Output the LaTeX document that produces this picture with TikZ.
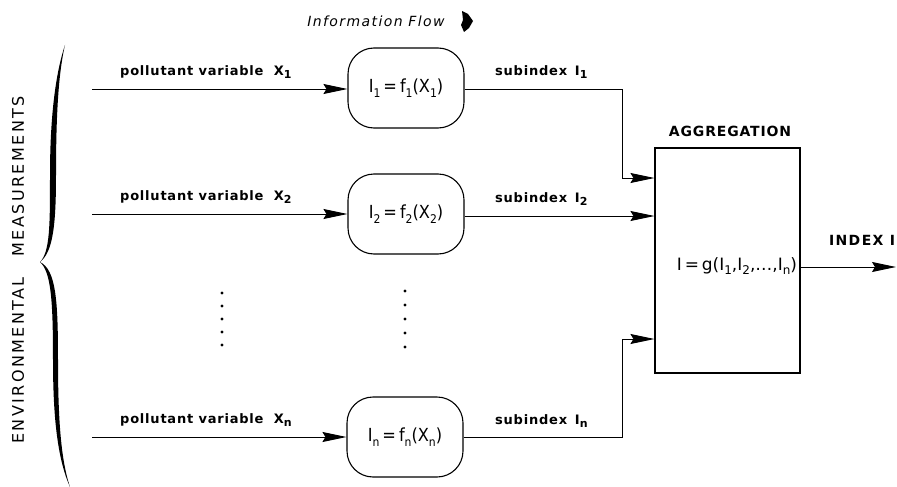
\documentclass[tikz,border=0pt]{standalone}
\usepackage{fontspec}
\setmainfont{DejaVu Sans}
\newfontfamily\lsA{DejaVu Sans}[LetterSpace=6]
\newfontfamily\lsB{DejaVu Sans}[LetterSpace=10]
\newfontfamily\lsC{DejaVu Sans}[LetterSpace=15]
\newfontfamily\cnd{DejaVu Sans Condensed}
\usetikzlibrary{arrows.meta,calc}
\newcommand{\sbs}[1]{\raisebox{-0.5ex}{\fontsize{11}{11}\selectfont #1}}
\newcommand{\fsb}[1]{\raisebox{-0.5ex}{\fontsize{12}{12}\selectfont #1}}
\begin{document}
\begin{tikzpicture}[x=1pt,y=-1pt,
  fbox/.style={draw,line width=1.1pt,rounded corners=26pt,minimum width=116pt,minimum height=80pt,inner sep=0pt,font=\cnd\fontsize{18}{20}\selectfont},
  aggbox/.style={draw,line width=1.1pt,minimum width=145pt,minimum height=225pt,inner sep=0pt},
  arr/.style={line width=1pt,-{Stealth[length=24pt,width=10pt,inset=3pt]}},
  lab/.style={font=\lsA\fontsize{13}{15}\selectfont\bfseries,inner sep=0pt,anchor=west},
  dot/.style={circle,fill,inner sep=0pt,minimum size=3.4pt},
  ]
\useasboundingbox (0,0) rectangle (897,487);

% title
\node[font=\lsB\fontsize{14}{16}\selectfont\itshape,inner sep=0pt] (title) at (376,21) {Information Flow};
\fill (462,11) -- (468,14) -- (473,21) -- (469,28) -- (464,32) -- (461,25) -- (463,20) -- cycle;

% brace and side text
\fill (65,45) .. controls (55,75) and (50,120) .. (50,175) .. controls (50,225) and (50,252) .. (40,262)
  .. controls (53,252) and (56,225) .. (56,175) .. controls (56,120) and (58,75) .. (65,45) -- cycle;
\fill (40,262) .. controls (51,272) and (53,300) .. (53,360) .. controls (53,420) and (58,460) .. (70,487)
  .. controls (61,460) and (58,420) .. (58,360) .. controls (58,300) and (56,270) .. (40,262) -- cycle;
\node[rotate=90,font=\lsC\fontsize{16}{18}\selectfont,inner sep=0pt] (side) at (18,270) {ENVIRONMENTAL\hspace{1.3em}MEASUREMENTS};

% function boxes
\node[fbox] (b1) at (406,88) {I\fsb{1}\,=\,f\fsb{1}(X\fsb{1})};
\node[fbox] (b2) at (406,214) {I\fsb{2}\,=\,f\fsb{2}(X\fsb{2})};
\node[fbox] (bn) at (405,437) {I\fsb{n}\,=\,f\fsb{n}(X\fsb{n})};

% aggregation
\node[aggbox] (agg) at (727.5,260.5) {};
\node[font=\lsA\fontsize{14}{16}\selectfont\bfseries,inner sep=0pt] (agglab) at (730,131) {AGGREGATION};
\node[font=\fontsize{17}{19}\selectfont,inner sep=0pt] (aggf) at (737,266) {I\,=\,g(I\fsb{1},I\fsb{2},\dots,I\fsb{n})};

% inputs
\coordinate (in1) at (92,89);
\coordinate (in2) at (92,214);
\coordinate (inn) at (92,437);
\draw[arr] (in1) -- (b1.west |- in1);
\draw[arr] (in2) -- (b2.west |- in2);
\draw[arr] (inn) -- (bn.west |- inn);

\node[lab] (p1) at (120,72) {pollutant variable\hspace{0.8em}X\sbs{1}};
\node[lab] (p2) at (120,197) {pollutant variable\hspace{0.8em}X\sbs{2}};
\node[lab] (pn) at (120,420) {pollutant variable\hspace{0.8em}X\sbs{n}};

% outputs
\coordinate (xr) at (622,0);
\coordinate (a1) at (0,178);
\coordinate (an) at (0,339);
\coordinate (a2) at (0,216);
\draw[arr] (b1.east |- 0,89) -- (xr |- 0,89) |- (agg.west |- a1);
\draw[arr] (b2.east |- a2) -- (agg.west |- a2);
\draw[arr] (bn.east |- 0,437) -- (xr |- 0,437) |- (agg.west |- an);

\node[lab] (s1) at (495,72) {subindex\hspace{0.6em}I\sbs{1}};
\node[lab] (s2) at (495,199) {subindex\hspace{0.6em}I\sbs{2}};
\node[lab] (sn) at (495,421) {subindex\hspace{0.6em}I\sbs{n}};

% index output
\coordinate (out) at (896,267);
\draw[arr] (agg.east |- out) -- (out);
\node[font=\lsB\fontsize{14}{16}\selectfont\bfseries,inner sep=0pt] (idx) at (862,240) {INDEX I};

% dots
\foreach \y [count=\i] in {293,306,319,332,345} {
  \node[dot] (dl\i) at (222,\y) {};
}
\foreach \y [count=\i] in {291,305,319,333,347} {
  \node[dot] (dr\i) at (405,\y) {};
}
\end{tikzpicture}
\end{document}
